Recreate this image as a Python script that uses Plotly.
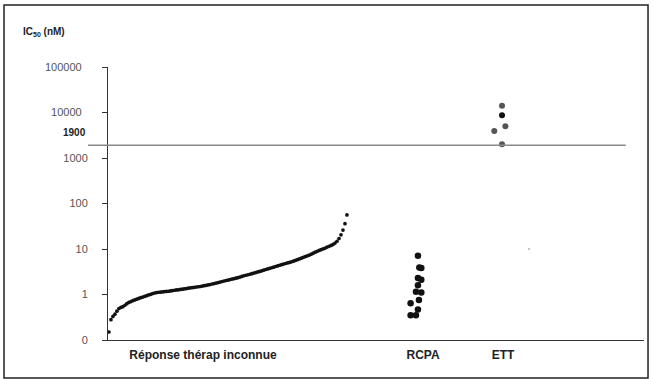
import math
import plotly.graph_objects as go

# ---- data ----
categories = ["Réponse thérap inconnue", "RCPA", "ETT"]
y_tick_vals = [0.1, 1, 10, 100, 1000, 10000, 100000]
y_tick_text = ["0", "1", "10", "100", "1000", "10000&nbsp;&nbsp;", "100000&nbsp;&nbsp;"]
threshold = 1900

unknown_ic50 = [
    0.15, 0.28, 0.33, 0.37, 0.43, 0.49, 0.52, 0.54, 0.58, 0.63, 0.67,
    0.70, 0.73, 0.76, 0.79, 0.82, 0.85, 0.88, 0.91, 0.94, 0.98,
    1.01, 1.05, 1.08, 1.10, 1.12, 1.13, 1.14, 1.16, 1.17, 1.18,
    1.20, 1.22, 1.24, 1.26, 1.27, 1.29, 1.31, 1.33, 1.35, 1.38,
    1.40, 1.42, 1.44, 1.46, 1.48, 1.50, 1.53, 1.56, 1.59, 1.62,
    1.66, 1.70, 1.74, 1.78, 1.83, 1.88, 1.93, 1.98, 2.03, 2.08,
    2.13, 2.18, 2.23, 2.28, 2.34, 2.42, 2.50, 2.58, 2.65, 2.72,
    2.79, 2.87, 2.95, 3.04, 3.13, 3.22, 3.32, 3.43, 3.54, 3.65,
    3.76, 3.87, 3.99, 4.12, 4.25, 4.39, 4.53, 4.66, 4.80, 4.94,
    5.08, 5.23, 5.40, 5.60, 5.82, 6.05, 6.30, 6.55, 6.82, 7.08,
    7.35, 7.70, 8.10, 8.50, 8.90, 9.30, 9.70, 10.1, 10.5, 11.0,
    11.5, 12.0, 12.6, 13.5, 14.8, 17.0, 20.5, 26.0, 36.0, 56.0,
]
rcpa_ic50 = [7.1, 3.9, 3.8, 2.3, 2.1, 1.6, 1.15, 1.1, 0.76, 0.64, 0.47, 0.35, 0.35]
ett_ic50 = [14000, 8700, 5000, 3900, 2000]
ett_faint = [10]

# ---- layout helpers (positions, not data) ----
rcpa_center = 155.8
ett_center = 198.2
faint_x = 211.8
cat_label_x = [47.4, 158.4, 198.7]
rcpa_jitter = [0, 0.7, 1.7, 0, 1.7, 0, -1.0, 1.7, 0.5, -3.7, 0, -3.7, -1.0]
ett_jitter = [0, 0, 1.7, -3.9, 0]
ett_colors = ["#555555", "#111111", "#555555", "#555555", "#555555"]

fig = go.Figure()

fig.add_trace(go.Scatter(
    x=list(range(len(unknown_ic50))), y=unknown_ic50, mode="markers",
    marker=dict(color="#111111", size=3.7), hoverinfo="y", showlegend=False))

fig.add_trace(go.Scatter(
    x=[rcpa_center + j for j in rcpa_jitter], y=rcpa_ic50, mode="markers",
    marker=dict(color="#111111", size=6.5), showlegend=False))

fig.add_trace(go.Scatter(
    x=[ett_center + j for j in ett_jitter], y=ett_ic50, mode="markers",
    marker=dict(color=ett_colors, size=6), showlegend=False))

fig.add_trace(go.Scatter(
    x=[faint_x], y=ett_faint, mode="markers",
    marker=dict(color="#c8c8c8", size=2.5), showlegend=False))

# threshold line
fig.add_shape(type="line", xref="paper", yref="y",
              x0=-0.0373, x1=0.966, y0=threshold, y1=threshold,
              line=dict(color="#8a8a8a", width=1.5))

# outer frame
fig.add_shape(type="rect", xref="paper", yref="paper",
              x0=-0.194, x1=1.0075, y0=-0.139, y1=1.227,
              line=dict(color="#222222", width=1.5))

fig.add_annotation(xref="paper", yref="y", x=-0.0373, y=math.log10(threshold),
                   xanchor="right", yanchor="middle", yshift=13,
                   text="<b>1900</b>", showarrow=False,
                   font=dict(size=10, color="#222222", family="Liberation Sans, Arial"))

fig.add_annotation(xref="paper", yref="paper", x=-0.162, y=1.128,
                   xanchor="left", yanchor="middle",
                   text="<b>IC<sub>50</sub> (nM)</b>", showarrow=False,
                   font=dict(size=10, color="#222222", family="Liberation Sans, Arial"))

fig.update_layout(
    width=654, height=379,
    margin=dict(l=108, r=10, t=67, b=39),
    paper_bgcolor="white", plot_bgcolor="white",
    font=dict(family="Liberation Sans, Arial", size=11, color="#444444"),
    xaxis=dict(range=[-0.5, 269.8], showgrid=False, zeroline=False,
               showline=True, linecolor="#333333", linewidth=1,
               tickvals=cat_label_x, ticktext=["<b>%s</b>" % c for c in categories],
               ticks="", ticklabelstandoff=4,
               tickfont=dict(size=12, color="#222222")),
    yaxis=dict(type="log", range=[-1, 5], showgrid=False, zeroline=False,
               showline=True, linecolor="#333333", linewidth=1,
               tickvals=y_tick_vals, ticktext=y_tick_text,
               ticks="outside", ticklen=5, tickcolor="#333333",
               ticklabelstandoff=12,
               tickfont=dict(size=11, color="#555555")),
)

fig.write_html("out.html",
               config={"displayModeBar": False},
               post_script="document.body.style.margin='0';document.body.style.overflow='hidden';")
